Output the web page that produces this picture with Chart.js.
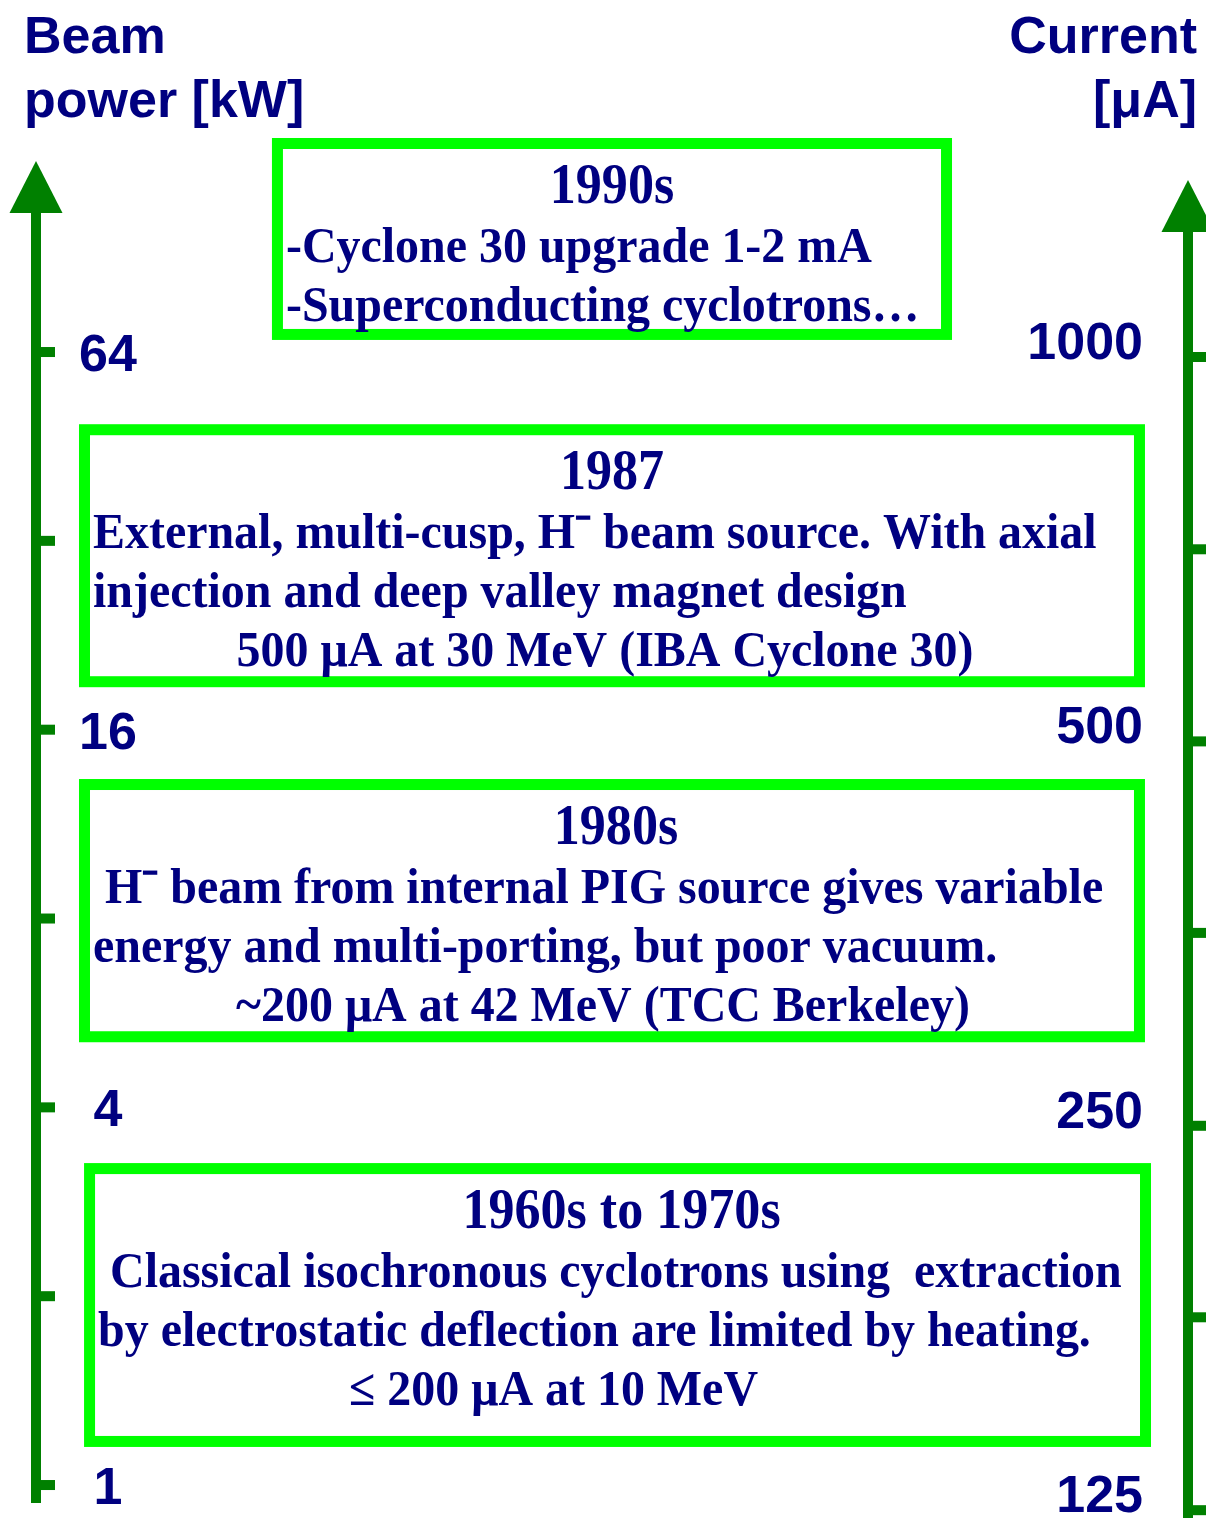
<!DOCTYPE html>
<html>
<head>
<meta charset="utf-8">
<title>Cyclotron beam power timeline</title>
<script src="https://cdn.jsdelivr.net/npm/chart.js@4.4.1/dist/chart.umd.min.js"></script>
<style>
  html, body { margin: 0; padding: 0; background: #ffffff; overflow: hidden; }
  #wrap { width: 1206px; height: 1518px; }
</style>
</head>
<body>
<div id="wrap"><canvas id="myChart" width="1206" height="1518"></canvas></div>
<script>
"use strict";

// axis values
const powerTicks = [1, 2, 4, 8, 16, 32, 64];          // kW, one tick per doubling
const powerLabels = [1, 4, 16, 64];
const currentTicks = [125, 177, 250, 354, 500, 707, 1000]; // uA
const currentLabels = [125, 250, 500, 1000];

// the four eras, bottom to top
const eraTitles = ["1960s to 1970s", "1980s", "1987", "1990s"];
const eraLines = [
  [" Classical isochronous cyclotrons using  extraction",
   "by electrostatic deflection are limited by heating.",
   "\u2264 200 \u03bcA at 10 MeV"],
  [" H\u207b beam from internal PIG source gives variable",
   "energy and multi-porting, but poor vacuum.",
   "~200 \u03bcA at 42 MeV (TCC Berkeley)"],
  ["External, multi-cusp, H\u207b beam source. With axial",
   "injection and deep valley magnet design",
   "500 \u03bcA at 30 MeV (IBA Cyclone 30)"],
  ["-Cyclone 30 upgrade 1-2 mA",
   "-Superconducting cyclotrons\u2026"],
];
// beam power span covered by each era box [kW]
const eraPowerRange = [[1.15, 3.26], [5.08, 13.35], [18.7, 49.1], [66.9, 140.4]];

// layout only (x in % of width), no values here
const boxLayout = [
  { x0: 6.97, x1: 95.44, titleDx: 4, align: ["l", "l", "c"], dx: [0, 0, -64] },
  { x0: 6.55, x1: 94.94, titleDx: 4, align: ["l", "l", "c"], dx: [0, 0, -9] },
  { x0: 6.55, x1: 94.94, titleDx: 0, align: ["l", "l", "c"], dx: [0, 0, -7] },
  { x0: 22.55, x1: 78.94, titleDx: 0, align: ["l", "l"], dx: [0, 0] },
];

const NAVY = "#000080";
const AXIS_GREEN = "#008000";
const BOX_GREEN = "#00ff00";
const SANS = '"Liberation Sans", Arial, sans-serif';
const SERIF = '"Liberation Serif", "Times New Roman", serif';

// text with a horizontal squeeze, like the condensed slide font
function drawText(ctx, str, x, y, font, align, sx) {
  ctx.save();
  ctx.font = font;
  ctx.textAlign = "left";
  ctx.textBaseline = "alphabetic";
  const w = ctx.measureText(str).width * sx;
  let left = x;
  if (align === "center") left = x - w / 2;
  if (align === "right") left = x - w;
  ctx.translate(left, y);
  ctx.scale(sx, 1);
  ctx.fillText(str, 0, 0);
  ctx.restore();
}

function drawArrowAxis(ctx, lineX, tipY, bottomY, scale, ticks, tickLen) {
  ctx.save();
  ctx.fillStyle = AXIS_GREEN;
  // shaft
  ctx.fillRect(lineX - 5, tipY + 50, 10, bottomY - tipY - 50);
  // head
  ctx.beginPath();
  ctx.moveTo(lineX, tipY);
  ctx.lineTo(lineX - 26.5, tipY + 52);
  ctx.lineTo(lineX + 26.5, tipY + 52);
  ctx.closePath();
  ctx.fill();
  // ticks on the right side of the shaft
  ticks.forEach(function (t) {
    const py = scale.getPixelForValue(t);
    ctx.fillRect(lineX + 5, py - 5, tickLen, 10);
  });
  ctx.restore();
}

const diagramPlugin = {
  id: "diagram",
  beforeDraw(chart) {
    const ctx = chart.ctx;
    ctx.save();
    ctx.fillStyle = "#ffffff";
    ctx.fillRect(0, 0, chart.width, chart.height);
    ctx.restore();
  },
  afterDraw(chart) {
    const ctx = chart.ctx;
    const xs = chart.scales.x;
    const yP = chart.scales.yPower;
    const yC = chart.scales.yCurrent;

    // axis titles
    ctx.fillStyle = NAVY;
    drawText(ctx, "Beam", 24, 53, "bold 52px " + SANS, "left", 1);
    drawText(ctx, "power [kW]", 24, 117, "bold 52px " + SANS, "left", 1);
    drawText(ctx, "Current", 1197, 53, "bold 52px " + SANS, "right", 1);
    drawText(ctx, "[\u03bcA]", 1197, 117, "bold 52px " + SANS, "right", 1);

    // both axes
    drawArrowAxis(ctx, 36, 161, 1503, yP, powerTicks, 14);
    drawArrowAxis(ctx, 1188, 180, chart.height, yC, currentTicks, 14);

    // tick labels
    ctx.fillStyle = NAVY;
    powerLabels.forEach(function (v) {
      const py = yP.getPixelForValue(v);
      drawText(ctx, String(v), 108, py + 19, "bold 52px " + SANS, "center", 1);
    });
    currentLabels.forEach(function (v) {
      const py = yC.getPixelForValue(v);
      drawText(ctx, String(v), 1143, py + 2, "bold 52px " + SANS, "right", 1);
    });

    // era boxes
    eraTitles.forEach(function (title, i) {
      const lay = boxLayout[i];
      const left = xs.getPixelForValue(lay.x0);
      const right = xs.getPixelForValue(lay.x1);
      const top = yP.getPixelForValue(eraPowerRange[i][1]);
      const bottom = yP.getPixelForValue(eraPowerRange[i][0]);
      ctx.save();
      ctx.strokeStyle = BOX_GREEN;
      ctx.lineWidth = 11;
      ctx.strokeRect(left + 5.5, top + 5.5, right - left - 11, bottom - top - 11);
      ctx.restore();

      const cx = (left + right) / 2;
      ctx.fillStyle = NAVY;
      drawText(ctx, title, cx + lay.titleDx, top + 65, "bold 56px " + SERIF, "center", 0.93);
      eraLines[i].forEach(function (line, j) {
        const y = top + 65 + 59 * (j + 1);
        if (lay.align[j] === "c") {
          drawText(ctx, line, cx + lay.dx[j], y, "bold 51px " + SERIF, "center", 0.94);
        } else {
          drawText(ctx, line, left + 14, y, "bold 51px " + SERIF, "left", 0.94);
        }
      });
    });
  },
};

const ctx = document.getElementById("myChart");

new Chart(ctx, {
  type: "scatter",
  data: { datasets: [] },
  options: {
    responsive: false,
    animation: false,
    devicePixelRatio: 1,
    layout: { padding: 0 },
    plugins: {
      legend: { display: false },
      tooltip: { enabled: false },
    },
    scales: {
      x: { type: "linear", min: 0, max: 100, display: false },
      yPower: {
        type: "logarithmic", position: "left", bounds: "data",
        min: 0.886, max: 233.0, display: false,
      },
      yCurrent: {
        type: "logarithmic", position: "right", bounds: "data",
        min: 123.25, max: 1903.6, display: false,
      },
    },
  },
  plugins: [diagramPlugin],
});
</script>
</body>
</html>
